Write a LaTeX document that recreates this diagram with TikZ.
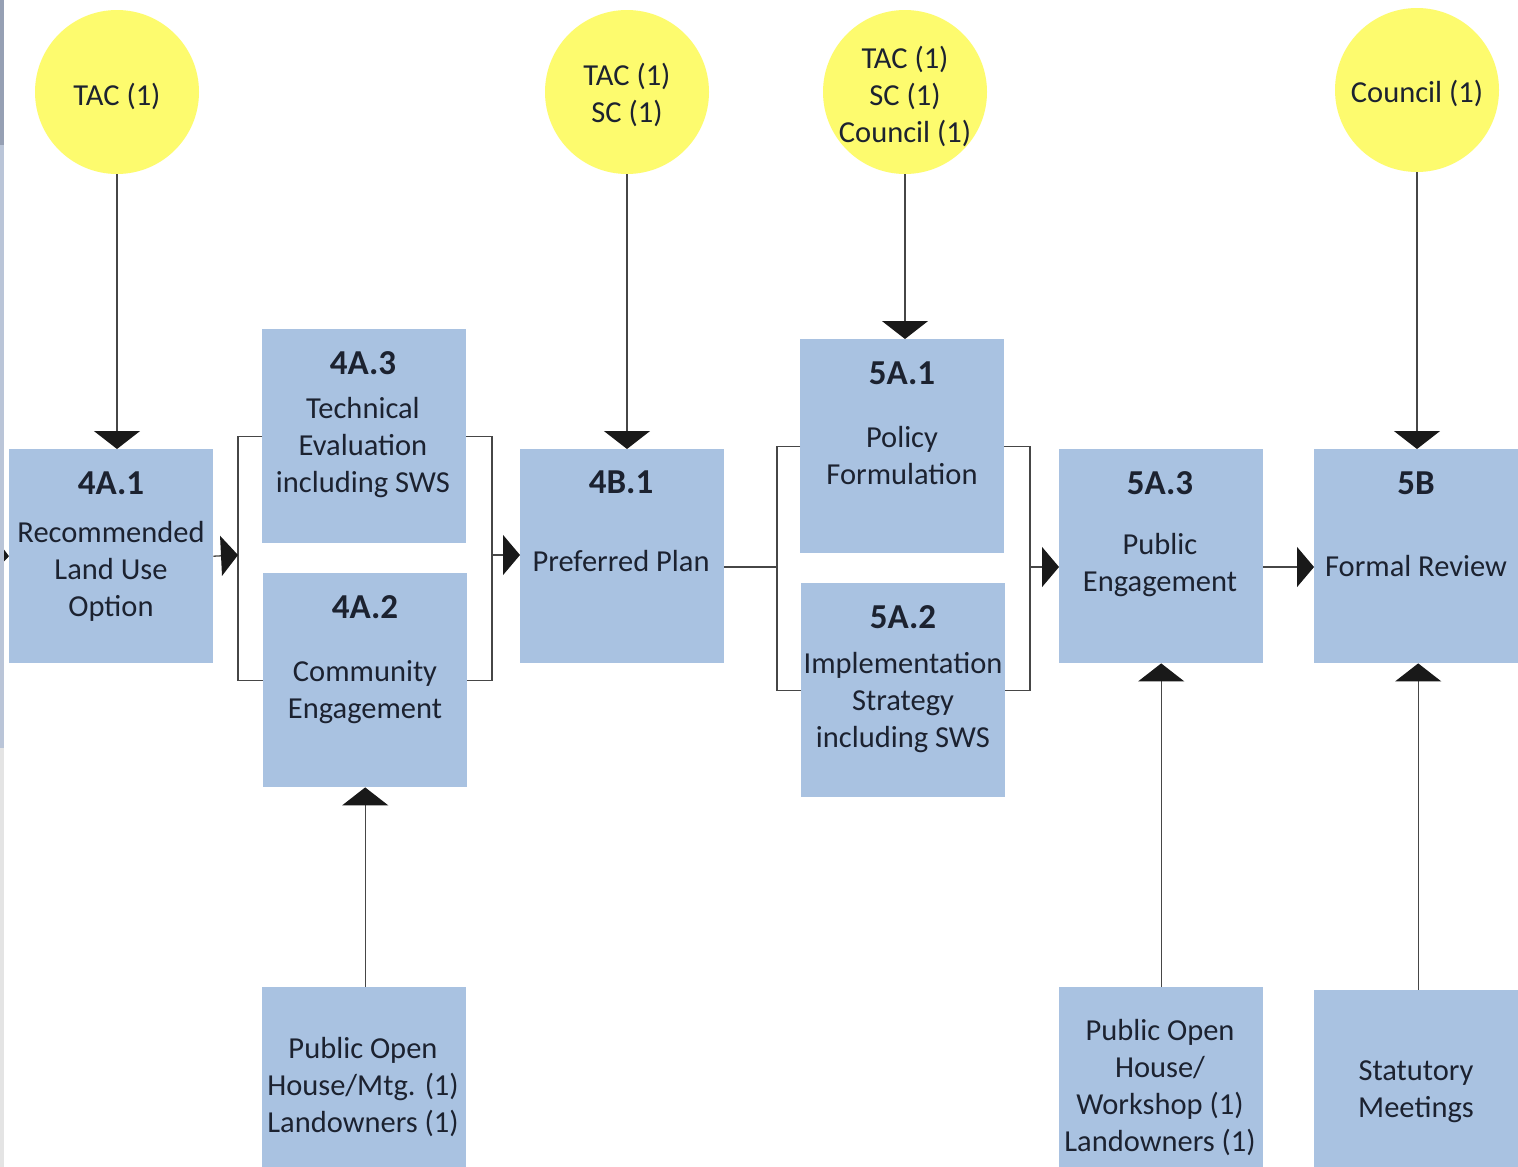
\documentclass[tikz,border=0pt]{standalone}
\usepackage{fontspec}
\setmainfont{Carlito}
\usetikzlibrary{arrows.meta}
\definecolor{boxblue}{RGB}{169,194,225}
\definecolor{circyellow}{RGB}{253,251,110}
\definecolor{txtc}{RGB}{28,34,48}
\definecolor{lnc}{RGB}{70,70,70}
\definecolor{tipc}{RGB}{25,25,25}
\begin{document}
\begin{tikzpicture}[x=1pt,y=-1pt,
  box/.style={fill=boxblue,draw=none,inner sep=0pt,anchor=north west,minimum width=204pt,minimum height=214pt},
  circ/.style={circle,fill=circyellow,draw=none,inner sep=0pt,minimum size=164pt},
  head/.style={text=txtc,inner sep=0pt,anchor=base,font=\fontsize{35}{40}\selectfont\bfseries},
  body/.style={text=txtc,inner sep=0pt,anchor=base,align=center,font=\fontsize{30.5}{37}\selectfont},
  conn/.style={draw=lnc,line width=1.3pt},
  varrow/.style={conn,-{Triangle[length=18pt,width=46pt,color=tipc]}},
  harrow/.style={conn,-{Triangle[length=17pt,width=40pt,color=tipc]}}
]
\useasboundingbox (0,0) rectangle (1518,1167);
\fill[white] (0,0) rectangle (1518,1167);

% circles
\node[circ] (c1) at (117,92) {};
\node[circ] (c2) at (627,92) {};
\node[circ] (c3) at (905,92) {};
\node[circ] (c4) at (1417,90) {};
\node[body] (tc1) at (117,105) {TAC (1)};
\node[body] (tc2) at (627,122) {TAC (1)\\SC (1)};
\node[body] (tc3) at (905,142) {TAC (1)\\SC (1)\\Council (1)};
\node[body] (tc4) at (1417,102) {Council (1)};

% boxes
\node[box] (b41) at (9,449) {};
\node[box] (b43) at (262,329) {};
\node[box] (b42) at (263,573) {};
\node[box] (b4B) at (520,449) {};
\node[box] (b51) at (800,339) {};
\node[box] (b52) at (801,583) {};
\node[box] (b53) at (1059,449) {};
\node[box] (b5B) at (1314,449) {};
\node[box,minimum height=180pt] (pm) at (262,987) {};
\node[box,minimum height=180pt] (pw) at (1059,987) {};
\node[box,minimum height=177pt] (sm) at (1314,990) {};

% box texts (base = baseline of last line)
\node[head] (h41) at (111,494) {4A.1};
\node[body] (t41) at (111,616) {Recommended\\Land Use\\Option};
\node[head] (h43) at (363,374) {4A.3};
\node[body] (t43) at (363,492) {Technical\\Evaluation\\including SWS};
\node[head] (h42) at (365,618) {4A.2};
\node[body] (t42) at (365,718) {Community\\Engagement};
\node[head] (h4B) at (621,493) {4B.1};
\node[body] (t4B) at (621,571) {Preferred Plan};
\node[head] (h51) at (902,384) {5A.1};
\node[body] (t51) at (902,484) {Policy\\Formulation};
\node[head] (h52) at (903,628) {5A.2};
\node[body] (t52) at (903,747) {Implementation\\Strategy\\including SWS};
\node[head] (h53) at (1160,494) {5A.3};
\node[body] (t53) at (1160,591) {Public\\Engagement};
\node[head] (h5B) at (1416,494) {5B};
\node[body] (t5B) at (1416,576) {Formal Review};
\node[body] (tpm) at (363,1132) {Public Open\\House/Mtg. (1)\\Landowners (1)};
\node[body] (tpw) at (1160,1151) {Public Open\\House/\\Workshop (1)\\Landowners (1)};
\node[body] (tsm) at (1416,1117) {Statutory\\Meetings};

% vertical arrows from circles
\draw[varrow] (c1.south) -- (c1.south |- b41.north);
\draw[varrow] (c2.south) -- (c2.south |- b4B.north);
\draw[varrow] (c3.south) -- (c3.south |- b51.north);
\draw[varrow] (c4.south) -- (c4.south |- b5B.north);

% vertical arrows from bottom boxes
\draw[varrow] (b42.south |- pm.north) -- (b42.south);
\draw[varrow] (b53.south |- pw.north) -- (b53.south);
\draw[varrow] ([xshift=2pt]b5B.south |- sm.north) -- ([xshift=2pt]b5B.south);

% brackets
\coordinate (bl1) at (238,555);
\coordinate (br1) at (492,555);
\coordinate (bl2) at (777,567);
\coordinate (br2) at (1030,567);
\coordinate (lin) at (-12,555);
\draw[conn] (b43.west) -| (bl1) |- (b42.west);
\draw[conn] (b43.east) -| (br1) |- (b42.east);
\draw[conn] (b51.west) -| (bl2) |- (b52.west);
\draw[conn] (b51.east) -| (br2) |- (b52.east);

% horizontal arrows
\draw[harrow] (lin) -- (b41.west);
\draw[harrow] (b41.east) -- (bl1);
\draw[harrow] (br1) -- (br1 -| b4B.west);
\draw[conn] (bl2 -| b4B.east) -- (bl2);
\draw[harrow] (br2) -- (br2 -| b53.west);
\draw[harrow] (br2 -| b53.east) -- (br2 -| b5B.west);

% left edge strip
\fill[fill={rgb,255:red,150;green,160;blue,180}] (0,0) rectangle (4,145);
\fill[fill={rgb,255:red,186;green,197;blue,216}] (0,145) rectangle (4,748);
\fill[fill={rgb,255:red,228;green,228;blue,228}] (0,748) rectangle (4,1167);
\end{tikzpicture}
\end{document}
